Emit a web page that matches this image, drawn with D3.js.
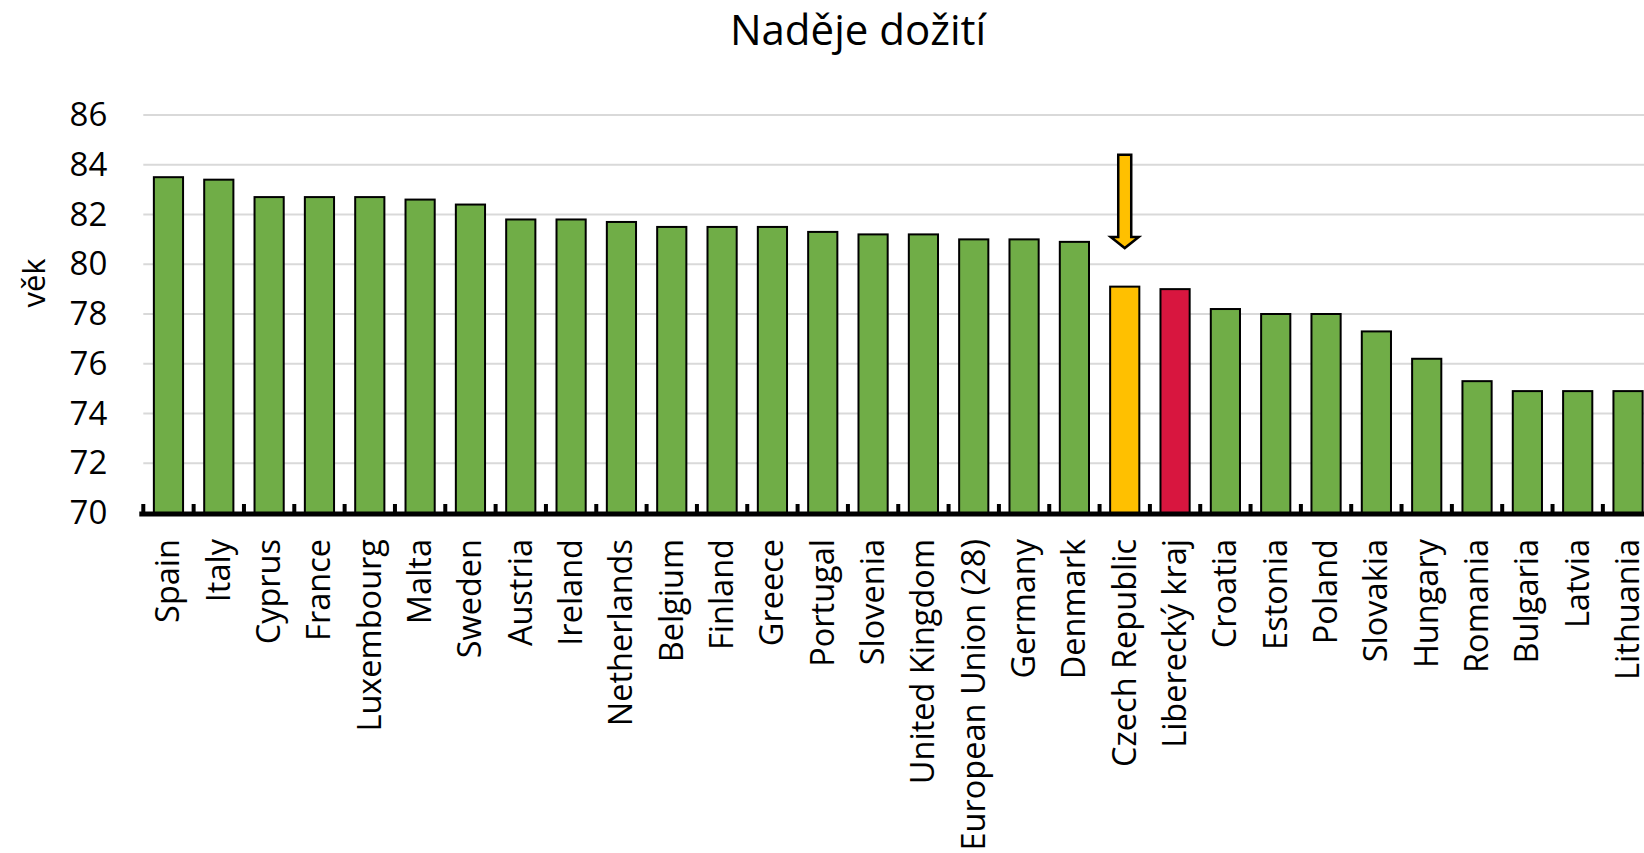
<!DOCTYPE html>
<head>
	<title>Naděje dožití</title>
	<meta charset="utf-8"/>
	<script src="https://d3js.org/d3.v7.min.js"></script>
	<style>
		body { margin: 0; background: #fff; }
		text { font-family: "Open Sans", sans-serif; fill: #000; }
	</style>
</head>
<body>
<div id="my_dataviz"></div>
<script>
    var countries = [
        "Spain", "Italy", "Cyprus", "France", "Luxembourg", "Malta", "Sweden",
        "Austria", "Ireland", "Netherlands", "Belgium", "Finland", "Greece",
        "Portugal", "Slovenia", "United Kingdom", "European Union (28)", "Germany",
        "Denmark", "Czech Republic", "Liberecký kraj", "Croatia", "Estonia",
        "Poland", "Slovakia", "Hungary", "Romania", "Bulgaria", "Latvia", "Lithuania"
    ];
    var values = [
        83.5, 83.4, 82.7, 82.7, 82.7, 82.6, 82.4,
        81.8, 81.8, 81.7, 81.5, 81.5, 81.5,
        81.3, 81.2, 81.2, 81.0, 81.0,
        80.9, 79.1, 79.0, 78.2, 78.0,
        78.0, 77.3, 76.2, 75.3, 74.9, 74.9, 74.9
    ];
    var yTicks = [70, 72, 74, 76, 78, 80, 82, 84, 86];
    var highlight = { "Czech Republic": "#FFC000", "Liberecký kraj": "#D8163F" };
    // arrow above the Czech bar, in axis units
    var arrowTarget = "Czech Republic";
    var arrowTop = 84.4, arrowHead = 81.1, arrowTip = 80.65;

    var data = countries.map(function(c, i) { return { name: c, value: values[i] }; });

    var W = 1644, H = 853;
    var x0 = 143.3, step = 50.33;
    var svg = d3.select("#my_dataviz").append("svg")
        .attr("width", W).attr("height", H);

    var x = d3.scaleBand()
        .domain(countries)
        .range([x0, x0 + step * countries.length])
        .paddingInner(0.42)
        .paddingOuter(0.21);
    var y = d3.scaleLinear().domain([70, 86]).range([513, 115]);

    // title
    svg.append("text")
        .attr("x", 858).attr("y", 45)
        .attr("text-anchor", "middle")
        .style("font-size", "42px")
        .text("Naděje dožití");

    // gridlines
    svg.append("g").selectAll("line")
        .data(yTicks.slice(1))
        .enter().append("line")
        .attr("x1", x0).attr("x2", W)
        .attr("y1", function(d) { return y(d); })
        .attr("y2", function(d) { return y(d); })
        .attr("stroke", "#D9D9D9").attr("stroke-width", 2);

    // y axis labels
    var yAxis = svg.append("g")
        .attr("transform", "translate(" + x0 + ",0)")
        .call(d3.axisLeft(y).tickValues(yTicks).tickSize(0).tickPadding(36));
    yAxis.select(".domain").remove();
    yAxis.selectAll("text")
        .style("font-size", "33px")
        .style("font-family", "Open Sans, sans-serif");

    // axis title
    svg.append("text")
        .attr("transform", "translate(45,283) rotate(-90)")
        .attr("text-anchor", "middle")
        .style("font-size", "31px")
        .text("věk");

    // bars
    svg.append("g").selectAll("rect")
        .data(data)
        .enter().append("rect")
        .attr("x", function(d) { return x(d.name); })
        .attr("y", function(d) { return y(d.value); })
        .attr("width", x.bandwidth())
        .attr("height", function(d) { return y(70) - y(d.value); })
        .attr("fill", function(d) { return highlight[d.name] || "#70AD47"; })
        .attr("stroke", "#000").attr("stroke-width", 2);

    // x axis: thick line with small inward ticks between categories
    var bounds = d3.range(countries.length + 1).map(function(i) { return x0 + i * x.step(); });
    svg.append("line")
        .attr("x1", x0 - 4).attr("x2", W)
        .attr("y1", y(70) + 1).attr("y2", y(70) + 1)
        .attr("stroke", "#000").attr("stroke-width", 5);
    svg.append("g").selectAll("line")
        .data(bounds)
        .enter().append("line")
        .attr("x1", function(d) { return d; }).attr("x2", function(d) { return d; })
        .attr("y1", y(70) - 9).attr("y2", y(70))
        .attr("stroke", "#000").attr("stroke-width", 4);

    // category labels
    svg.append("g").selectAll("text")
        .data(countries)
        .enter().append("text")
        .attr("transform", function(d) {
            return "translate(" + (x(d) + x.bandwidth() / 2 + 11) + ",539) rotate(-90)";
        })
        .attr("text-anchor", "end")
        .style("font-size", "32.5px")
        .text(function(d) { return d; });

    // arrow
    var cx = x(arrowTarget) + x.bandwidth() / 2;
    var sw = 6.5, hw = 14;
    var pts = [
        [cx - sw, y(arrowTop)], [cx + sw, y(arrowTop)], [cx + sw, y(arrowHead)],
        [cx + hw, y(arrowHead)], [cx, y(arrowTip)], [cx - hw, y(arrowHead)],
        [cx - sw, y(arrowHead)]
    ];
    svg.append("polygon")
        .attr("points", pts.map(function(p) { return p.join(","); }).join(" "))
        .attr("fill", "#FFC000")
        .attr("stroke", "#000").attr("stroke-width", 2.5)
        .attr("stroke-linejoin", "miter");
</script>
</body>
